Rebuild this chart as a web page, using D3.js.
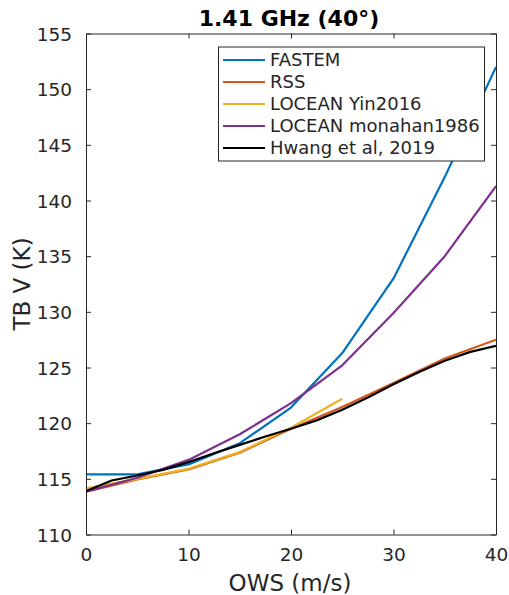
<!DOCTYPE html>
<html><head><meta charset="utf-8">
<script src="https://cdn.jsdelivr.net/npm/d3@7"></script>
<style>body{margin:0;background:#fff}svg{display:block}</style>
</head><body>
<script>
const seriesNames = ["FASTEM","RSS","LOCEAN Yin2016","LOCEAN monahan1986","Hwang et al, 2019"];
const colors = ["#0072BD","#D95319","#EDB120","#7E2F8E","#000000"];
const wsFastem = [0,5,10,15,20,25,30,35,40];
const tbFastem = [115.4,115.4,116.3,118.2,121.4,126.3,133.0,142.1,152.0];
const wsRss = [0,5,10,15,20,25,30,35,40];
const tbRss = [113.85,114.95,115.85,117.35,119.5,121.45,123.6,125.8,127.5];
const wsYin = [0,5,10,15,20,25];
const tbYin = [114.15,115.0,115.9,117.4,119.6,122.2];
const wsMon = [0,5,10,15,20,25,30,35,40];
const tbMon = [113.85,115.1,116.7,119.0,121.8,125.2,129.9,135.0,141.3];
const wsHwang = [0,2.5,5,7.5,10,12.5,15,17.5,20,22.5,25,27.5,30,32.5,35,37.5,40];
const tbHwang = [113.9,114.85,115.3,115.8,116.5,117.3,118.05,118.8,119.5,120.25,121.2,122.3,123.5,124.6,125.6,126.4,126.95];
const xTicks = [0,10,20,30,40];
const yTicks = [110,115,120,125,130,135,140,145,150,155];

const W=509,H=595, L=86, R=496, T=33.5, B=534.5;
const font = "DejaVu Sans, sans-serif", txt="#262626";
const svg = d3.select("body").append("svg").attr("width",W).attr("height",H);
const x = d3.scaleLinear().domain([0,40]).range([L,R]);
const y = d3.scaleLinear().domain([110,155]).range([B,T]);

svg.append("defs").append("clipPath").attr("id","c").append("rect")
  .attr("x",L).attr("y",T).attr("width",R-L).attr("height",B-T);

const data = [[wsFastem,tbFastem],[wsRss,tbRss],[wsYin,tbYin],[wsMon,tbMon],[wsHwang,tbHwang]];
const line = d3.line().x(d=>x(d[0])).y(d=>y(d[1]));
const g = svg.append("g").attr("clip-path","url(#c)");
data.forEach((s,i)=>{
  g.append("path").datum(s[0].map((w,j)=>[w,s[1][j]]))
   .attr("d",line).attr("fill","none").attr("stroke",colors[i]).attr("stroke-width",2.2)
   .attr("stroke-linejoin","round");
});

const tl=-5;
const ax = svg.append("g").attr("transform",`translate(0,${B})`)
  .call(d3.axisBottom(x).tickValues(xTicks).tickSizeInner(tl).tickSizeOuter(0).tickPadding(13));
const axT = svg.append("g").attr("transform",`translate(0,${T})`)
  .call(d3.axisTop(x).tickValues(xTicks).tickSizeInner(tl).tickSizeOuter(0).tickFormat(""));
const ay = svg.append("g").attr("transform",`translate(${L},0)`)
  .call(d3.axisLeft(y).tickValues(yTicks).tickSizeInner(tl).tickSizeOuter(0).tickPadding(14));
const ayR = svg.append("g").attr("transform",`translate(${R},0)`)
  .call(d3.axisRight(y).tickValues(yTicks).tickSizeInner(tl).tickSizeOuter(0).tickFormat(""));
[ax,axT,ay,ayR].forEach(a=>{
  a.selectAll("path").attr("stroke",txt).attr("stroke-width",1);
  a.selectAll("line").attr("stroke",txt).attr("stroke-width",1);
  a.selectAll("text").attr("fill",txt).style("font-family",font).style("font-size","18.5px");
});
ax.selectAll("text").attr("dy","0.71em");
ay.selectAll("text").attr("dy","0.36em");

svg.append("text").attr("x",(L+R)/2 - 2).attr("y",26).attr("text-anchor","middle")
  .style("font-family",font).style("font-size","22px").style("font-weight","bold").attr("fill","#000")
  .text("1.41 GHz (40°)");
svg.append("text").attr("x",(L+R)/2 - 1).attr("y",591).attr("text-anchor","middle")
  .style("font-family",font).style("font-size","23px").attr("fill",txt).text("OWS (m/s)");
svg.append("text").attr("transform",`translate(30,${(T+B)/2}) rotate(-90)`).attr("text-anchor","middle")
  .style("font-family",font).style("font-size","23px").attr("fill",txt).text("TB V (K)");

const lg = svg.append("g");
lg.append("rect").attr("x",218.5).attr("y",47).attr("width",266).attr("height",114)
  .attr("fill","#fff").attr("stroke",txt).attr("stroke-width",1);
seriesNames.forEach((n,i)=>{
  const yy = 60 + i*22;
  lg.append("line").attr("x1",223).attr("x2",265).attr("y1",yy).attr("y2",yy)
    .attr("stroke",colors[i]).attr("stroke-width",2.2);
  lg.append("text").attr("x",270).attr("y",yy).attr("dy","0.36em")
    .style("font-family",font).style("font-size","18px").attr("fill",txt).text(n);
});
</script>
</body></html>
